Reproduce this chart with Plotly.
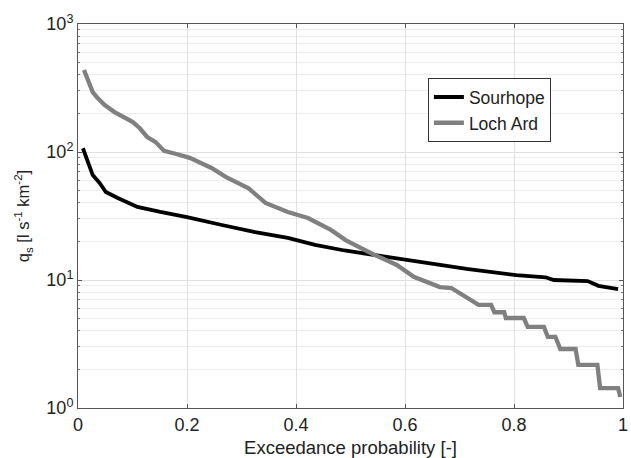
import plotly.graph_objects as go

# Sourhope flow duration curve
sour_x = [0.009, 0.018, 0.027, 0.04, 0.051, 0.073, 0.109, 0.151, 0.2, 0.264, 0.325,
          0.385, 0.435, 0.489, 0.544, 0.585, 0.658, 0.713, 0.804, 0.858, 0.873,
          0.935, 0.955, 0.991]
sour_y = [107, 82, 66, 57, 48.7, 43.7, 37.2, 34, 31, 26.9, 23.7,
          21.3, 18.8, 17.0, 15.7, 14.6, 13.3, 12.2, 10.9, 10.5, 10.0,
          9.8, 9.0, 8.5]

# Loch Ard flow duration curve
loch_x = [0.011, 0.018, 0.027, 0.036, 0.049, 0.067, 0.085, 0.1, 0.113, 0.127, 0.142,
          0.158, 0.182, 0.205, 0.245, 0.271, 0.313, 0.331, 0.344, 0.385, 0.422,
          0.464, 0.491, 0.544, 0.585, 0.616, 0.664, 0.685,
          0.718, 0.735, 0.758, 0.764, 0.782, 0.785, 0.818, 0.825, 0.855, 0.862, 0.876,
          0.885, 0.913, 0.918, 0.953, 0.958, 0.991, 0.995]
loch_y = [437, 365, 294, 264, 233, 205, 188, 172, 154, 131, 120,
          102, 96, 90, 75, 64, 52, 44.5, 40, 34, 30.5,
          24.6, 20.5, 15.7, 13.1, 10.6, 8.8, 8.66,
          7.0, 6.4, 6.4, 5.6, 5.6, 5.05, 5.05, 4.3, 4.3, 3.59, 3.59,
          2.89, 2.89, 2.17, 2.17, 1.43, 1.43, 1.22]

x_ticks = [0, 0.2, 0.4, 0.6, 0.8, 1]
x_labels = ["0", "0.2", "0.4", "0.6", "0.8", "1"]
y_ticks = [1, 10, 100, 1000]
y_labels = ["10<sup>0</sup>", "10<sup>1</sup>", "10<sup>2</sup>", "10<sup>3</sup>"]

fig = go.Figure()
fig.add_trace(go.Scatter(x=sour_x, y=sour_y, mode="lines", name="Sourhope",
                         line=dict(color="#000000", width=3.8)))
fig.add_trace(go.Scatter(x=loch_x, y=loch_y, mode="lines", name="Loch Ard",
                         line=dict(color="#808080", width=4.3)))

axis_font = dict(family="Arial, Liberation Sans, sans-serif", size=18, color="#222")
fig.update_layout(
    width=631, height=458,
    margin=dict(l=78, r=3, t=24, b=50),
    paper_bgcolor="white", plot_bgcolor="white",
    font=dict(family="Arial, Liberation Sans, sans-serif", size=16, color="#222"),
    showlegend=True,
    legend=dict(x=0.642, y=0.859, xanchor="left", yanchor="top",
                bordercolor="#333", borderwidth=1, bgcolor="white",
                itemwidth=30,
                font=dict(size=17.5, color="#222"), tracegroupgap=0),
)
fig.update_xaxes(
    range=[0, 1], tickvals=x_ticks, ticktext=x_labels,
    showgrid=True, gridcolor="#e0e0e0", gridwidth=1,
    showline=True, linecolor="#555", linewidth=1, mirror="ticks",
    ticks="inside", ticklen=4, tickcolor="#555",
    tickfont=axis_font, zeroline=False, ticklabeloverflow="allow",
    title=dict(text="Exceedance probability [-]", font=dict(size=18.5), standoff=7),
)
fig.update_yaxes(
    type="log", range=[0, 3], tickvals=y_ticks, ticktext=y_labels,
    showgrid=True, gridcolor="#e0e0e0", gridwidth=1,
    showline=True, linecolor="#555", linewidth=1, mirror="ticks",
    ticks="inside", ticklen=4, tickcolor="#555",
    tickfont=axis_font, zeroline=False,
    minor=dict(showgrid=True, gridcolor="#ececec", gridwidth=1,
               ticks="inside", ticklen=2, tickcolor="#777", dtick="D1"),
    title=dict(text="q<sub>s</sub> [l s<sup>-1</sup> km<sup>-2</sup>]", font=dict(size=16.5), standoff=12),
)

fig.write_html("out.html")
